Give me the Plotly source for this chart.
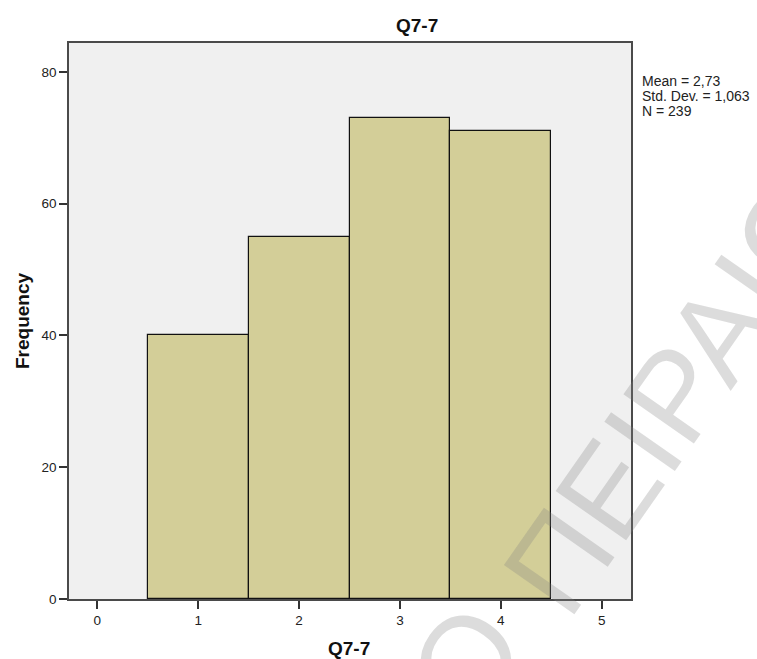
import plotly.graph_objects as go

# Histogram of Q7-7 responses
categories = [1, 2, 3, 4]
frequencies = [40, 55, 73, 71]
x_ticks = [0, 1, 2, 3, 4, 5]
y_ticks = [0, 20, 40, 60, 80]
stats_lines = ["Mean = 2,73", "Std. Dev. = 1,063", "N = 239"]

W, H = 757, 659
L, R, T, B = 69, 126, 43, 60
pw, ph = W - L - R, H - T - B

def px(xp):
    return (xp - L) / pw

def py(yp):
    return (H - B - yp) / ph

FONT = "Arial, Liberation Sans, sans-serif"

fig = go.Figure()
fig.add_trace(go.Bar(
    x=categories, y=frequencies, width=1,
    marker=dict(color="#d3ce98", line=dict(color="#111111", width=1.2)),
    hoverinfo="x+y",
))

fig.update_layout(
    width=W, height=H,
    margin=dict(l=L, r=R, t=T, b=B),
    paper_bgcolor="white", plot_bgcolor="#f0f0f0",
    showlegend=False,
    font=dict(family=FONT, color="#222222"),
    bargap=0,
)
fig.update_xaxes(
    range=[-0.28, 5.29], tickvals=x_ticks, ticks="outside", ticklen=8,
    tickwidth=1.5, tickcolor="#333333", showgrid=False, zeroline=False,
    showline=True, mirror=True, linecolor="#4a4a4a", linewidth=1.5,
    tickfont=dict(size=13.5, color="#222222"),
)
fig.update_yaxes(
    range=[0, 84.4], tickvals=y_ticks, ticks="outside", ticklen=8,
    tickwidth=1.5, tickcolor="#333333", showgrid=False, zeroline=False,
    showline=True, mirror=True, linecolor="#4a4a4a", linewidth=1.5,
    tickfont=dict(size=13.5, color="#222222"),
)

ann = []
# chart title
ann.append(dict(text="<b>Q7-7</b>", x=px(416.5), y=py(26), xref="paper", yref="paper",
                xanchor="center", yanchor="middle", showarrow=False,
                font=dict(size=19, family=FONT, color="#111111")))
# axis titles
ann.append(dict(text="<b>Q7-7</b>", x=px(349), y=py(649), xref="paper", yref="paper",
                xanchor="center", yanchor="middle", showarrow=False,
                font=dict(size=19, family=FONT, color="#111111")))
ann.append(dict(text="<b>Frequency</b>", x=px(22), y=0.5, xref="paper", yref="paper",
                xanchor="center", yanchor="middle", showarrow=False, textangle=-90,
                font=dict(size=19, family=FONT, color="#111111")))
# summary statistics
for i, line in enumerate(stats_lines):
    ann.append(dict(text=line, x=px(640), y=py(81 + 15 * i), xref="paper", yref="paper",
                    xanchor="left", yanchor="middle", showarrow=False,
                    font=dict(size=14, family=FONT, color="#222222")))
# diagonal watermark
wm_font = dict(size=125, family=FONT, color="rgba(128,128,128,0.28)")
ann.append(dict(text="ΠΕΙΡΑΙΩΣ", x=px(696), y=py(364), xref="paper", yref="paper",
                xanchor="center", yanchor="middle", showarrow=False, textangle=-55,
                font=wm_font))
ann.append(dict(text="ΠΑΝΕΠΙΣΤΗΜΙΟ", x=px(220), y=py(1010), xref="paper", yref="paper",
                xanchor="center", yanchor="middle", showarrow=False, textangle=-55,
                font=wm_font))
fig.update_layout(annotations=ann)

fig.write_html("out.html")
